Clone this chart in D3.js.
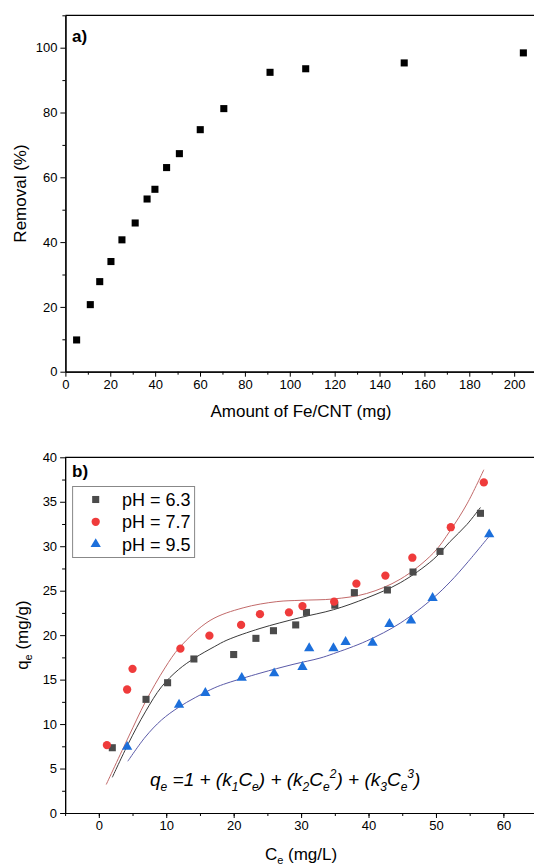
<!DOCTYPE html>
<html>
<head>
<meta charset="utf-8">
<script src="https://cdn.jsdelivr.net/npm/d3@7"></script>
<style>
  body { margin: 0; background: #fff; overflow: hidden; }
  svg { font-family: "Liberation Sans", Arial, sans-serif; display: block; }
</style>
</head>
<body>
<script>
// ---- panel a) data
const dosage = [5.0, 11.1, 15.3, 20.3, 25.2, 31.1, 36.4, 39.9, 45.1, 50.8, 60.1, 70.6, 91.2, 107.1, 151.0, 204.1];
const removal = [9.8, 20.7, 27.8, 34.0, 40.7, 45.9, 53.3, 56.3, 63.0, 67.3, 74.7, 81.2, 92.4, 93.5, 95.3, 98.4];

// ---- panel b) data
const ce63 = [2.0, 7.0, 10.2, 14.1, 20.0, 23.3, 25.9, 29.2, 30.8, 35.0, 37.9, 42.8, 46.6, 50.6, 56.6];
const qe63 = [7.34, 12.78, 14.65, 17.32, 17.82, 19.64, 20.5, 21.15, 22.56, 23.37, 24.78, 25.08, 27.1, 29.42, 33.7];
const ce77 = [1.2, 4.2, 5.0, 12.1, 16.4, 21.1, 23.9, 28.2, 30.2, 34.9, 38.2, 42.5, 46.5, 52.2, 57.1];
const qe77 = [7.64, 13.89, 16.21, 18.48, 19.94, 21.15, 22.36, 22.56, 23.27, 23.77, 25.79, 26.7, 28.71, 32.14, 37.18];
const ce95 = [4.2, 11.9, 15.8, 21.2, 26.0, 30.2, 31.2, 34.8, 36.6, 40.6, 43.1, 46.3, 49.5, 57.9];
const qe95 = [7.44, 12.18, 13.49, 15.2, 15.7, 16.41, 18.53, 18.53, 19.23, 19.13, 21.25, 21.65, 24.18, 31.33];

// fitted polynomial curves
const fit63x = [2.0, 4.4, 6.9, 9.3, 11.8, 14.2, 17.2, 19.0, 23.9, 29.8, 34.8, 39.7, 44.7, 49.6, 52.1, 54.6, 56.6];
const fit63y = [4.01, 7.84, 11.37, 14.19, 16.11, 17.42, 18.73, 19.44, 20.75, 21.96, 22.86, 24.17, 25.89, 28.51, 30.53, 32.45, 34.36];
const fit77x = [1.1, 4.4, 6.9, 9.8, 12.0, 16.5, 21.4, 26.4, 30.0, 34.8, 39.7, 44.7, 49.6, 52.1, 54.6, 57.1];
const fit77y = [3.2, 8.55, 12.48, 16.31, 18.63, 21.65, 23.07, 23.77, 23.92, 24.07, 24.68, 26.29, 29.22, 31.74, 34.76, 38.6];
const fit95x = [4.3, 6.9, 9.3, 11.8, 14.3, 17.2, 19.0, 23.9, 28.8, 32.8, 34.8, 39.7, 44.7, 49.6, 52.1, 54.6, 57.9];
const fit95y = [5.82, 8.55, 10.46, 11.87, 12.98, 14.09, 14.6, 15.72, 16.71, 17.42, 17.92, 19.34, 21.35, 24.18, 25.99, 28.11, 31.13];

const legendLabels = ["pH = 6.3", "pH = 7.7", "pH = 9.5"];

const W = 534, H = 865;
const svg = d3.select("body").append("svg")
    .attr("width", W)
    .attr("height", H);

// draw frame + axes for one panel
function drawAxes(x, y, xMajor, xMinor, yMajor, yMinor) {
    const [x0, x1] = x.range();
    const [yb, yt] = y.range();

    // top border
    svg.append("line")
        .attr("x1", x0).attr("x2", x1)
        .attr("y1", yt).attr("y2", yt)
        .attr("stroke", "#000").attr("stroke-width", 1.2);

    const gx = svg.append("g").attr("transform", `translate(0,${yb})`);
    gx.call(d3.axisBottom(x).tickValues(xMinor).tickSize(3).tickSizeOuter(0).tickFormat(""));
    gx.append("g").call(d3.axisBottom(x).tickValues(xMajor).tickSize(5).tickSizeOuter(0).tickPadding(3));

    const gy = svg.append("g").attr("transform", `translate(${x0},0)`);
    gy.call(d3.axisLeft(y).tickValues(yMinor).tickSize(3).tickSizeOuter(0).tickFormat(""));
    gy.append("g").call(d3.axisLeft(y).tickValues(yMajor).tickSize(5).tickSizeOuter(0).tickPadding(3));

    svg.selectAll(".domain").attr("stroke-width", 1.2);
    svg.selectAll(".tick line").attr("stroke-width", 1);
    svg.selectAll(".tick text")
        .style("font-size", "13px")
        .style("font-family", "'Liberation Sans', Arial, sans-serif")
        .attr("fill", "#000");
}

// ================= panel a)
const xA = d3.scaleLinear().domain([0, 210]).range([65.4, 536.6]);
const yA = d3.scaleLinear().domain([0, 110]).range([371.7, 15.3]);

drawAxes(xA, yA,
    d3.range(0, 201, 20), d3.range(10, 211, 20),
    d3.range(0, 101, 20), d3.range(10, 111, 20));

svg.append("g")
    .selectAll("path")
    .data(dosage.map((d, i) => [d, removal[i]]))
    .join("path")
    .attr("transform", d => `translate(${xA(d[0])},${yA(d[1])})`)
    .attr("d", d3.symbol().type(d3.symbolSquare).size(50))
    .attr("fill", "#000");

svg.append("text")
    .attr("x", 72).attr("y", 42)
    .style("font-size", "17px").style("font-weight", "bold")
    .text("a)");

svg.append("text")
    .attr("x", 301).attr("y", 417)
    .attr("text-anchor", "middle")
    .style("font-size", "17px")
    .text("Amount of Fe/CNT (mg)");

svg.append("text")
    .attr("transform", `translate(26,${(15.3 + 371.7) / 2}) rotate(-90)`)
    .attr("text-anchor", "middle")
    .style("font-size", "17px")
    .text("Removal (%)");

// ================= panel b)
const xB = d3.scaleLinear().domain([-5, 65]).range([65.1, 537.1]);
const yB = d3.scaleLinear().domain([0, 40]).range([813, 457.3]);

drawAxes(xB, yB,
    d3.range(0, 61, 10), d3.range(-5, 66, 5),
    d3.range(0, 41, 5), d3.range(2.5, 40, 5));

const fitLine = d3.line()
    .x(d => xB(d[0]))
    .y(d => yB(d[1]))
    .curve(d3.curveCatmullRom.alpha(0.5));

const fits = [
    { xs: fit63x, ys: fit63y, color: "#3a3a3a" },
    { xs: fit77x, ys: fit77y, color: "#c26a6a" },
    { xs: fit95x, ys: fit95y, color: "#5a5aa8" }
];
fits.forEach(f => {
    svg.append("path")
        .datum(f.xs.map((d, i) => [d, f.ys[i]]))
        .attr("d", fitLine)
        .attr("fill", "none")
        .attr("stroke", f.color)
        .attr("stroke-width", 1);
});

const series = [
    { xs: ce63, ys: qe63, type: d3.symbolSquare, size: 50, color: "#4b4b4b" },
    { xs: ce77, ys: qe77, type: d3.symbolCircle, size: 54, color: "#ef3b3b" },
    { xs: ce95, ys: qe95, type: d3.symbolTriangle, size: 46, color: "#1c6fdb" }
];
series.forEach(s => {
    svg.append("g")
        .selectAll("path")
        .data(s.xs.map((d, i) => [d, s.ys[i]]))
        .join("path")
        .attr("transform", d => `translate(${xB(d[0])},${yB(d[1])})`)
        .attr("d", d3.symbol().type(s.type).size(s.size))
        .attr("fill", s.color);
});

// legend
const legend = svg.append("g");
legend.append("rect")
    .attr("x", 72.6).attr("y", 486.5)
    .attr("width", 122).attr("height", 71)
    .attr("fill", "#fff")
    .attr("stroke", "#888").attr("stroke-width", 1);
series.forEach((s, i) => {
    const cy = 499.5 + i * 22.3;
    legend.append("path")
        .attr("transform", `translate(95.7,${cy})`)
        .attr("d", d3.symbol().type(s.type).size(s.size))
        .attr("fill", s.color);
    legend.append("text")
        .attr("x", 122).attr("y", cy + 6.5)
        .style("font-size", "18px")
        .text(legendLabels[i]);
});

svg.append("text")
    .attr("x", 72).attr("y", 477)
    .style("font-size", "17px").style("font-weight", "bold")
    .text("b)");

// equation
const eq = svg.append("text")
    .attr("x", 150).attr("y", 786)
    .style("font-size", "19px")
    .style("font-style", "italic");
const parts = [
    ["q", 0], ["e", 1], [" =1 + (k", 0], ["1", 1], ["C", 0], ["e", 1], [") + (k", 0], ["2", 1], ["C", 0], ["e", 1],
    ["2", 2], [") + (k", 0], ["3", 1], ["C", 0], ["e", 1], ["3", 2], [")", 0]
];
let level = 0;
const shift = [0, 5, -8];
parts.forEach(([t, l]) => {
    const dy = shift[l] - shift[level];
    eq.append("tspan")
        .attr("dy", dy)
        .style("font-size", l === 0 ? "19px" : "12px")
        .text(t);
    level = l;
});

// axis titles
const xt = svg.append("text")
    .attr("x", 301).attr("y", 860)
    .attr("text-anchor", "middle")
    .style("font-size", "17px");
xt.append("tspan").text("C");
xt.append("tspan").attr("dy", 4).style("font-size", "11px").text("e");
xt.append("tspan").attr("dy", -4).text(" (mg/L)");

const yt = svg.append("text")
    .attr("transform", `translate(28,${(457.3 + 813) / 2}) rotate(-90)`)
    .attr("text-anchor", "middle")
    .style("font-size", "17px");
yt.append("tspan").text("q");
yt.append("tspan").attr("dy", 4).style("font-size", "11px").text("e");
yt.append("tspan").attr("dy", -4).text(" (mg/g)");
</script>
</body>
</html>
